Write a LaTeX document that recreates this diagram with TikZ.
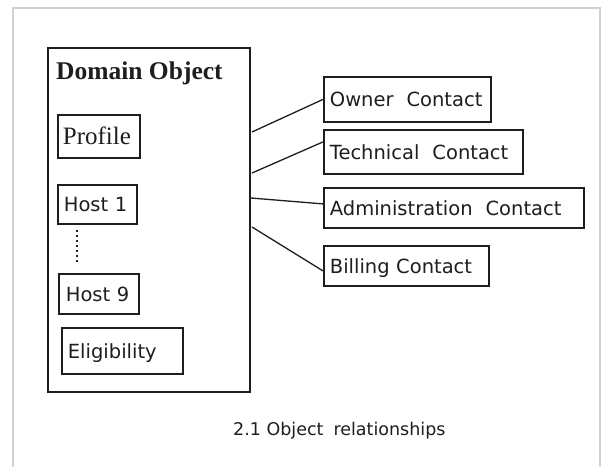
\documentclass[tikz,border=0pt]{standalone}
\usepackage{fontspec}
\setmainfont{Liberation Serif}
\newfontfamily\vsans{DejaVu Sans}
\definecolor{ink}{HTML}{1E1E1E}
\definecolor{frame}{HTML}{D2D2D2}
\begin{document}
\begin{tikzpicture}[x=1pt,y=-1pt,
  boxline/.style={draw=ink, line width=1.8pt},
  sbox/.style={boxline, anchor=north west, inner ysep=0pt, inner xsep=#1, align=left,
     font=\vsans\fontsize{19.5}{20}\selectfont, text=ink, text height=14.2pt, text depth=0pt},
  sbox/.default=6pt,
  link/.style={draw=ink, line width=1.3pt}]
\useasboundingbox (0,0) rectangle (607,467);
\fill[white] (0,0) rectangle (607,467);
% outer frame (open at bottom)
\draw[frame, line width=2pt] (12.5,467) -- (12.5,7.5) -- (600,7.5) -- (600,467);

% domain object
\node[boxline, anchor=north west, minimum width=202pt, minimum height=344pt, inner sep=0pt] (domain) at (47,47) {};
\node[anchor=base west, inner sep=0pt, font=\fontsize{25.5}{27}\selectfont\bfseries, text=ink] (title) at (56,79) {Domain Object};

\node[boxline, anchor=north west, minimum width=82pt, minimum height=43pt, inner xsep=5pt, inner ysep=0pt,
  text width=72pt, align=left, font=\fontsize{25}{26}\selectfont, text=ink, text height=16.5pt, text depth=0pt] (profile) at (57,114) {Profile};

\node[sbox, minimum width=79pt, minimum height=39pt, text width=67pt] (host1) at (57,184) {Host 1};
\node[sbox=7pt, minimum width=80pt, minimum height=40pt, text width=66pt] (host9) at (58,273) {Host 9};
\node[sbox, minimum width=121pt, minimum height=46pt, text width=109pt] (elig) at (61,327) {Eligibility};

\coordinate (d1) at (77,230);
\coordinate (d2) at (77,263);
\draw[ink, line width=1.6pt, dash pattern=on 1.6pt off 3.4pt] (d1) -- (d2);

% contacts
\node[sbox, minimum width=167pt, minimum height=45pt, text width=155pt] (owner) at (323,76) {Owner\ \ Contact};
\node[sbox, minimum width=199pt, minimum height=44pt, text width=187pt] (tech) at (323,129) {Technical\ \ Contact};
\node[sbox, minimum width=260pt, minimum height=40pt, text width=248pt] (admin) at (323,187) {Administration\ \ Contact};
\node[sbox, minimum width=165pt, minimum height=40pt, text width=153pt] (bill) at (323,245) {Billing Contact};

% connectors
\coordinate (s1) at (252,132);
\coordinate (s2) at (252,173);
\coordinate (s3) at (251,198);
\coordinate (s4) at (252,227);
\draw[link] (s1) -- ([yshift=0pt]owner.west);
\draw[link] (s2) -- ([yshift=10pt]tech.west);
\draw[link] (s3) -- ([yshift=4pt]admin.west);
\draw[link] (s4) -- ([yshift=-5pt]bill.west);

% caption
\node[anchor=base west, inner sep=0pt, font=\vsans\fontsize{17.5}{18}\selectfont, text=ink] (caption) at (233,435) {2.1 Object\hspace{0.25em} relationships};
\end{tikzpicture}
\end{document}
